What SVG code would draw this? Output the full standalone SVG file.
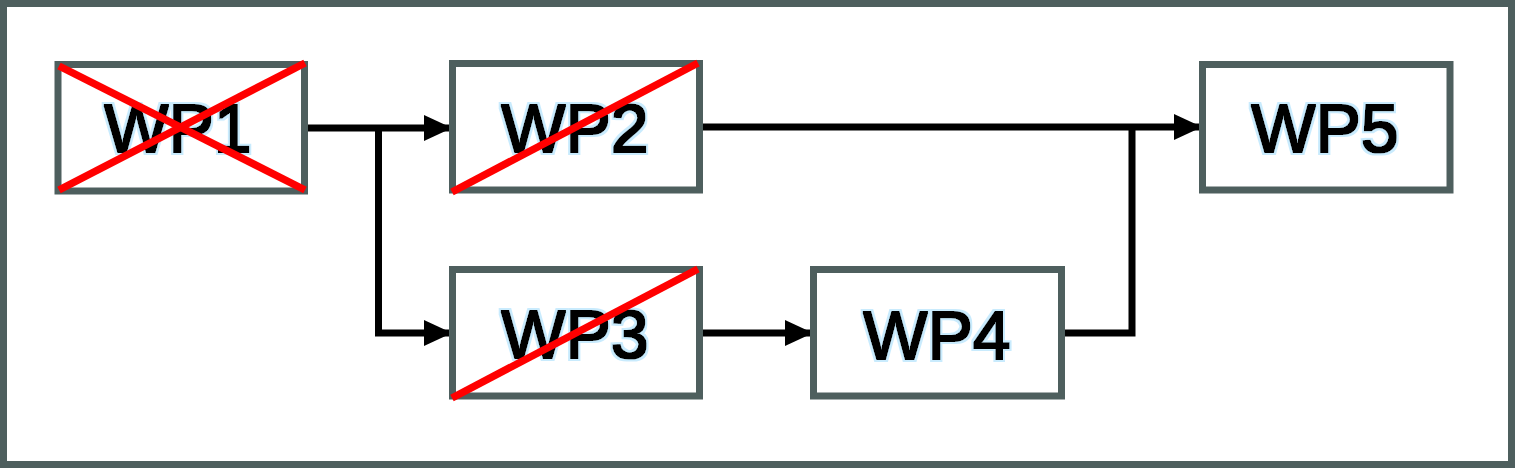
<svg xmlns="http://www.w3.org/2000/svg" width="1515" height="468" viewBox="0 0 1515 468">
<style>
.box{fill:#ffffff;stroke:#4e5f5e;stroke-width:7}
.lbl{font-family:"Liberation Sans",Arial,sans-serif;font-size:68px;text-anchor:middle;fill:#000000;filter:url(#halo)}
.x{stroke:#ff0000;stroke-width:7.5;fill:none}
.con{stroke:#000000;stroke-width:7;fill:none}
</style>
<defs>
<filter id="halo" x="-15%" y="-30%" width="130%" height="160%">
<feMorphology in="SourceAlpha" operator="dilate" radius="0.8" result="thick"/>
<feMorphology in="SourceAlpha" operator="dilate" radius="3.2" result="outer"/>
<feGaussianBlur in="outer" stdDeviation="0.6" result="outerb"/>
<feFlood flood-color="#c9ebfd"/>
<feComposite in2="outerb" operator="in" result="blue"/>
<feFlood flood-color="#000000"/>
<feComposite in2="thick" operator="in" result="black"/>
<feMerge><feMergeNode in="blue"/><feMergeNode in="black"/></feMerge>
</filter>
<marker id="ah" markerUnits="userSpaceOnUse" markerWidth="28" markerHeight="28" refX="28" refY="14" orient="auto">
<path d="M0,1 L28,14 L0,27 Z" fill="#000000"/>
</marker>
</defs>
<rect x="3.5" y="3.5" width="1508" height="461" fill="#ffffff" stroke="#4e5f5e" stroke-width="7"/>
<g id="connectors">
<path class="con" d="M305,128 H452" marker-end="url(#ah)"/>
<path class="con" d="M378.5,128 V333 H452" marker-end="url(#ah)"/>
<path class="con" d="M703,333 H813" marker-end="url(#ah)"/>
<path class="con" d="M703,127 H1202" marker-end="url(#ah)"/>
<path class="con" d="M1065,333 H1132 V124"/>
</g>
<g id="wp1">
<rect class="box" x="58" y="64.5" width="246.5" height="126.5"/>
<text class="lbl" x="178" y="152">WP1</text>
<line class="x" x1="59" y1="66" x2="305" y2="190"/>
<line class="x" x1="59" y1="190" x2="305" y2="63"/>
</g>
<g id="wp2">
<rect class="box" x="452.5" y="63.5" width="247" height="126.5"/>
<text class="lbl" x="575" y="152">WP2</text>
<line class="x" x1="452" y1="192" x2="698" y2="63"/>
</g>
<g id="wp3">
<rect class="box" x="452.5" y="269.5" width="247" height="126.5"/>
<text class="lbl" x="575" y="358">WP3</text>
<line class="x" x1="452" y1="398" x2="698" y2="269"/>
</g>
<g id="wp4">
<rect class="box" x="813.5" y="269.5" width="248" height="126.5"/>
<text class="lbl" x="937" y="359">WP4</text>
</g>
<g id="wp5">
<rect class="box" x="1202.5" y="64.5" width="247.5" height="125.5"/>
<text class="lbl" x="1325" y="152">WP5</text>
</g>
</svg>
